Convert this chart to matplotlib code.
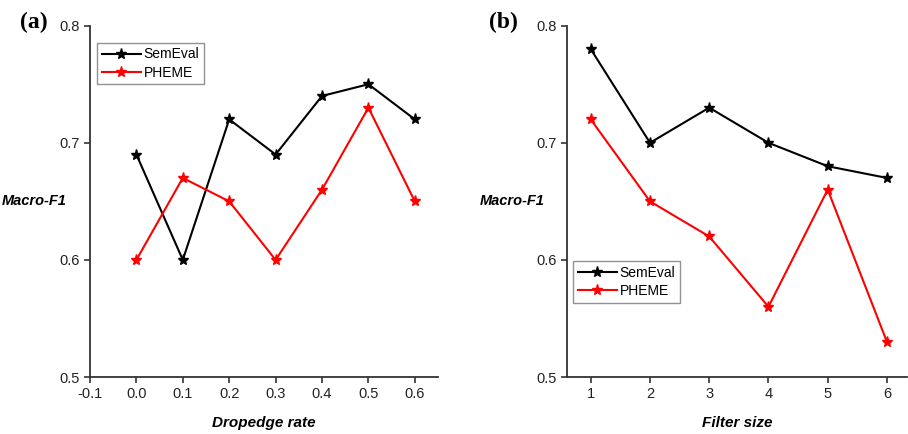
import matplotlib.pyplot as plt

# data
drop_rate = [0.0, 0.1, 0.2, 0.3, 0.4, 0.5, 0.6]
drop_semeval = [0.69, 0.60, 0.72, 0.69, 0.74, 0.75, 0.72]
drop_pheme = [0.60, 0.67, 0.65, 0.60, 0.66, 0.73, 0.65]

filter_size = [1, 2, 3, 4, 5, 6]
filter_semeval = [0.78, 0.70, 0.73, 0.70, 0.68, 0.67]
filter_pheme = [0.72, 0.65, 0.62, 0.56, 0.66, 0.53]

plt.rcParams['font.family'] = ['Liberation Sans', 'DejaVu Sans']

fig = plt.figure(figsize=(9.08, 4.34), dpi=100)
ax1 = fig.add_axes([0.0991, 0.1313, 0.3833, 0.8095])
ax2 = fig.add_axes([0.6245, 0.1313, 0.3745, 0.8095])


def style(ax, xlabel, ylab_x):
    ax.spines['top'].set_visible(False)
    ax.spines['right'].set_visible(False)
    for s in ('left', 'bottom'):
        ax.spines[s].set_linewidth(1.3)
        ax.spines[s].set_color('#333333')
    ax.set_ylim(0.5, 0.8)
    ax.set_yticks([0.5, 0.6, 0.7, 0.8])
    ax.tick_params(direction='out', length=4, width=1.2, labelsize=10.5,
                   colors='#333333', labelcolor='#222222')
    ax.set_xlabel(xlabel, fontsize=11, fontweight='bold', style='italic', va='center')
    ax.xaxis.set_label_coords(0.5, -0.13)
    ax.set_ylabel('Macro-F1', fontsize=10.5, fontweight='bold', style='italic',
                  rotation=0, ha='right', va='center')
    ax.yaxis.set_label_coords(ylab_x, 0.5)


def add_legend(ax, anchor):
    leg = ax.legend(loc='upper left', bbox_to_anchor=anchor, fancybox=False,
                    fontsize=10, handlelength=2.8, borderpad=0.35, labelspacing=0.3,
                    handletextpad=0.2, borderaxespad=0)
    leg.get_frame().set_edgecolor('#777777')
    leg.get_frame().set_linewidth(1.0)


ax1.plot(drop_rate, drop_semeval, color='black', marker='*', markersize=8, lw=1.5, label='SemEval')
ax1.plot(drop_rate, drop_pheme, color='red', marker='*', markersize=8, lw=1.5, label='PHEME')
ax1.set_xlim(-0.1, 0.65)
ax1.set_xticks([-0.1, 0.0, 0.1, 0.2, 0.3, 0.4, 0.5, 0.6])
ax1.set_xticklabels(['-0.1', '0.0', '0.1', '0.2', '0.3', '0.4', '0.5', '0.6'])
style(ax1, 'Dropedge rate', -0.066)
add_legend(ax1, (0.02, 0.952))

ax2.plot(filter_size, filter_semeval, color='black', marker='*', markersize=8, lw=1.5, label='SemEval')
ax2.plot(filter_size, filter_pheme, color='red', marker='*', markersize=8, lw=1.5, label='PHEME')
ax2.set_xlim(0.6, 6.34)
ax2.set_xticks(filter_size)
style(ax2, 'Filter size', -0.065)
add_legend(ax2, (0.018, 0.33))

fig.text(0.022, 0.948, '(a)', fontsize=17, fontweight='bold', family='Liberation Serif',
         va='center', ha='left')
fig.text(0.538, 0.948, '(b)', fontsize=17, fontweight='bold', family='Liberation Serif',
         va='center', ha='left')

fig.savefig('out.png', dpi=100)
